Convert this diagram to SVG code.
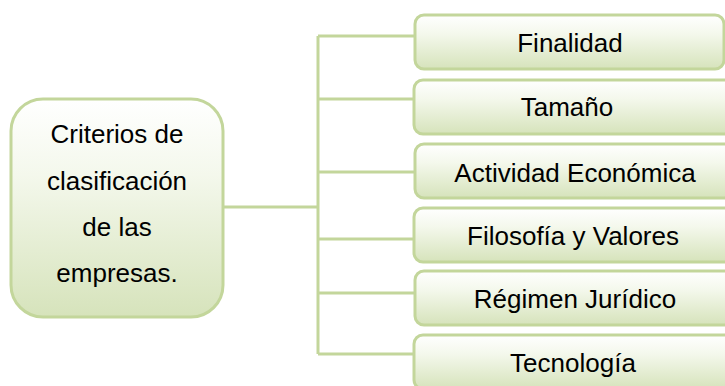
<svg xmlns="http://www.w3.org/2000/svg" width="725" height="386" viewBox="0 0 725 386">
  <defs>
    <linearGradient id="fill" x1="0" y1="0" x2="0" y2="1">
      <stop offset="0" stop-color="#ffffff"/>
      <stop offset="0.35" stop-color="#f4f8ec"/>
      <stop offset="1" stop-color="#d6e3bb"/>
    </linearGradient>
  </defs>
  <style>
    .box { fill: url(#fill); stroke: #c3d69b; stroke-width: 3; }
    .link { fill: none; stroke: #c3d69b; stroke-width: 3; }
    text { font-family: "Liberation Sans", Arial, sans-serif; font-size: 26px; fill: #000; text-anchor: middle; }
  </style>

  <g id="connectors">
    <path class="link" d="M223 207 H318"/>
    <path class="link" d="M318 36 V354"/>
    <path class="link" d="M318 36 H415"/>
    <path class="link" d="M318 99 H415"/>
    <path class="link" d="M318 172 H415"/>
    <path class="link" d="M318 239 H415"/>
    <path class="link" d="M318 293 H415"/>
    <path class="link" d="M318 354 H415"/>
  </g>

  <g id="criterios">
    <rect class="box" x="11" y="99" width="212" height="218" rx="32"/>
    <text x="117" y="143">Criterios de</text>
    <text x="117" y="190">clasificación</text>
    <text x="117" y="236">de las</text>
    <text x="117" y="282">empresas.</text>
  </g>

  <g id="finalidad">
    <rect class="box" x="415" y="15" width="309" height="54" rx="9"/>
    <text x="570" y="52">Finalidad</text>
  </g>
  <g id="tamano">
    <rect class="box" x="414" y="80" width="320" height="54" rx="9"/>
    <text x="567" y="116">Tamaño</text>
  </g>
  <g id="actividad">
    <rect class="box" x="415" y="144" width="320" height="54" rx="9"/>
    <text x="575" y="182">Actividad Económica</text>
  </g>
  <g id="filosofia">
    <rect class="box" x="414" y="208" width="320" height="54" rx="9"/>
    <text x="573" y="245">Filosofía y Valores</text>
  </g>
  <g id="regimen">
    <rect class="box" x="415" y="271" width="320" height="54" rx="9"/>
    <text x="575" y="308">Régimen Jurídico</text>
  </g>
  <g id="tecnologia">
    <rect class="box" x="414" y="335" width="320" height="54" rx="9"/>
    <text x="573" y="372">Tecnología</text>
  </g>
</svg>
